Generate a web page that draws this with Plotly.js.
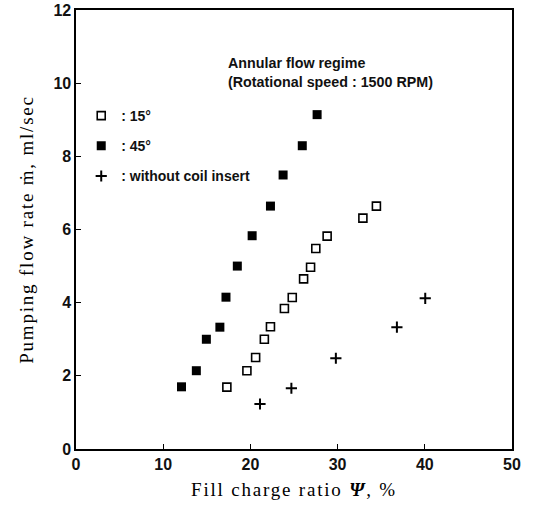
<!DOCTYPE html>
<html>
<head>
<meta charset="utf-8">
<script src="https://cdn.plot.ly/plotly-3.0.1.min.js"></script>
<style>
  html, body { margin: 0; padding: 0; background: #fff; }
  #chart { width: 533px; height: 508px; }
  .g-xtitle text, .g-ytitle text { letter-spacing: 1.8px; }
</style>
</head>
<body>
<div id="chart"></div>
<script>
// Data
var fill15 = [17.3, 19.6, 20.6, 21.6, 22.3, 23.9, 24.8, 26.1, 26.9, 27.5, 28.8, 32.9, 34.45];
var flow15 = [1.69, 2.14, 2.50, 3.00, 3.34, 3.84, 4.14, 4.65, 4.97, 5.48, 5.82, 6.31, 6.64];

var fill45 = [12.1, 13.8, 14.95, 16.5, 17.2, 18.5, 20.2, 22.3, 23.75, 25.95, 27.65];
var flow45 = [1.70, 2.14, 3.00, 3.33, 4.15, 5.00, 5.83, 6.64, 7.49, 8.29, 9.14];

var fillNone = [21.1, 24.7, 29.8, 36.8, 40.05];
var flowNone = [1.23, 1.66, 2.48, 3.33, 4.12];

var seriesNames = [': 15°', ': 45°', ': without coil insert'];
var noteLines = ['Annular flow regime', '(Rotational speed : 1500 RPM)'];
var xTicks = [0, 10, 20, 30, 40, 50];
var yTicks = [0, 2, 4, 6, 8, 10, 12];

var sans = 'Liberation Sans, Arial, sans-serif';
var serif = 'Liberation Serif, Times New Roman, serif';

var traces = [
  {
    x: fill15, y: flow15, name: seriesNames[0], legendgroup: 'a',
    type: 'scatter', mode: 'markers',
    marker: { symbol: 'square-open', size: 8, color: '#000', line: { width: 1.6, color: '#000' } }
  },
  {
    x: fill45, y: flow45, name: seriesNames[1], legendgroup: 'b',
    type: 'scatter', mode: 'markers',
    marker: { symbol: 'square', size: 9, color: '#000' }
  },
  {
    x: fillNone, y: flowNone, name: seriesNames[2], legendgroup: 'c',
    type: 'scatter', mode: 'markers',
    marker: { symbol: 'cross-thin-open', size: 8, color: '#000', line: { width: 2, color: '#000' } }
  }
];

var layout = {
  width: 533, height: 508,
  margin: { l: 76, r: 21, t: 10, b: 59 },
  paper_bgcolor: '#fff', plot_bgcolor: '#fff',
  font: { family: sans, size: 15, color: '#111' },
  showlegend: true,
  legend: {
    x: 0.012, y: 0.795, xanchor: 'left', yanchor: 'top',
    bgcolor: 'rgba(0,0,0,0)', borderwidth: 0,
    font: { family: sans, size: 14, color: '#111', weight: 'bold' },
    tracegroupgap: 9
  },
  xaxis: {
    range: [0, 50], tickmode: 'array', tickvals: xTicks, ticktext: xTicks.map(String),
    ticks: 'inside', ticklen: 5, tickwidth: 1.2, tickcolor: '#000',
    showline: true, linecolor: '#000', linewidth: 1.6, mirror: true,
    showgrid: false, zeroline: false,
    tickfont: { size: 16, color: '#111', weight: 'bold' },
    title: { text: 'Fill charge ratio <i><b>Ψ</b></i>, %', standoff: 11,
             font: { family: serif, size: 19, color: '#000' } }
  },
  yaxis: {
    range: [0, 12], tickmode: 'array', tickvals: yTicks, ticktext: yTicks.map(String),
    ticks: 'inside', ticklen: 5, tickwidth: 1.2, tickcolor: '#000',
    showline: true, linecolor: '#000', linewidth: 1.6, mirror: true,
    showgrid: false, zeroline: false,
    tickfont: { size: 16, color: '#111', weight: 'bold' },
    title: { text: 'Pumping flow rate ṁ, ml/sec', standoff: 15,
             font: { family: serif, size: 19, color: '#000' } }
  },
  annotations: [
    { xref: 'paper', yref: 'paper', x: (225.7 - 76) / 436, y: (449 - 63) / 439,
      xanchor: 'left', yanchor: 'middle', showarrow: false, text: noteLines[0],
      font: { size: 14.3, color: '#111', weight: 'bold' } },
    { xref: 'paper', yref: 'paper', x: (225.7 - 76) / 436, y: (449 - 82) / 439,
      xanchor: 'left', yanchor: 'middle', showarrow: false, text: noteLines[1],
      font: { size: 14.3, color: '#111', weight: 'bold' } }
  ]
};

Plotly.newPlot('chart', traces, layout, { displayModeBar: false, staticPlot: true });
</script>
</body>
</html>
